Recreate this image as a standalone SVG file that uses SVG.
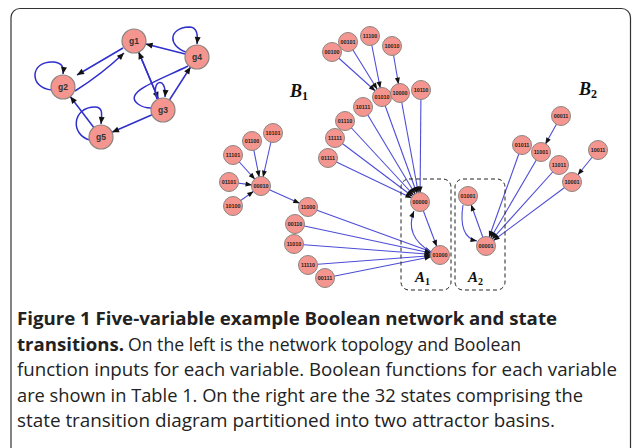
<svg xmlns="http://www.w3.org/2000/svg" width="633" height="448" viewBox="0 0 633 448">
<style>
.n circle{fill:#f4968f;stroke:#8c8480;stroke-width:1}
.n text{font-family:"Liberation Sans",Arial,sans-serif;font-weight:bold;font-size:5.4px;fill:#222;text-anchor:middle}
.g circle{fill:#f4968f;stroke:#8c8480;stroke-width:1.2}
.g text{font-family:"Liberation Sans",Arial,sans-serif;font-weight:bold;font-size:8.5px;fill:#333;text-anchor:middle}
.e{stroke:#4d4dd8;stroke-width:1.1;fill:none}
.el{stroke:#2f2fcc;stroke-width:1.5;fill:none}
.lb{font-family:"Liberation Serif","Times New Roman",serif;font-weight:bold;font-style:italic;fill:#111}
.sub{font-style:normal}
.cap{font-family:"Open Sans","Noto Sans",sans-serif;font-size:18.5px;fill:#222}
.box{fill:none;stroke:#222;stroke-width:1;stroke-dasharray:4,3}
</style>
<defs>
<marker id="ar" markerUnits="userSpaceOnUse" markerWidth="7" markerHeight="5" refX="15.5" refY="2.5" orient="auto" overflow="visible"><path d="M0,0 L6.5,2.5 L0,5 Z" fill="#111"/></marker>
<marker id="ag" markerUnits="userSpaceOnUse" markerWidth="7" markerHeight="6" refX="19" refY="3" orient="auto" overflow="visible"><path d="M0,0 L7,3 L0,6 Z" fill="#111"/></marker>
<marker id="at" markerUnits="userSpaceOnUse" markerWidth="7" markerHeight="6" refX="6.5" refY="2.5" orient="auto" overflow="visible"><path d="M0,0 L6.5,2.5 L0,5 Z" fill="#111"/></marker>
<marker id="atg" markerUnits="userSpaceOnUse" markerWidth="7" markerHeight="6" refX="7" refY="3" orient="auto" overflow="visible"><path d="M0,0 L7,3 L0,6 Z" fill="#111"/></marker>
</defs>
<rect x="11" y="8.5" width="619.5" height="470" rx="9" fill="#fff" stroke="#333" stroke-width="1.2"/>

<g id="connectors">
<!-- left network -->
<line class="el" x1="197" y1="57" x2="134" y2="41" marker-end="url(#ag)"/>
<path class="el" d="M186,52 C168,46 168,28 189,27 C197,27 198,34 197,44" marker-end="url(#atg)"/>
<path class="el" d="M123,48 L77,75" marker-end="url(#atg)"/>
<path class="el" d="M75,91 Q102,74 124,53" marker-end="url(#atg)"/>
<path class="el" d="M52,90 C28,88 30,60 54,62 C62,63 64,67 63,74" marker-end="url(#atg)"/>
<line class="el" x1="134" y1="41" x2="163" y2="110" marker-end="url(#ag)"/>
<line class="el" x1="163" y1="110" x2="134" y2="41" marker-end="url(#ag)"/>
<path class="el" d="M157,99 C150,80 167,75 165,97" marker-end="url(#atg)"/>
<path class="el" d="M188,66 C160,80 122,92 138,104 C142,107 147,108 151,108"/>
<line class="el" x1="163" y1="110" x2="197" y2="57" marker-end="url(#ag)"/>
<line class="el" x1="163" y1="110" x2="101" y2="137" marker-end="url(#ag)"/>
<line class="el" x1="101" y1="137" x2="63" y2="87" marker-end="url(#ag)"/>
<path class="el" d="M90,140 C70,135 72,107 95,107 C103,107 102,114 101,124" marker-end="url(#atg)"/>

<!-- B1 -->
<line class="e" x1="332" y1="52" x2="382" y2="97" marker-end="url(#ar)"/>
<line class="e" x1="348" y1="42" x2="382" y2="97" marker-end="url(#ar)"/>
<line class="e" x1="370" y1="36" x2="382" y2="97" marker-end="url(#ar)"/>
<line class="e" x1="392" y1="46" x2="400" y2="93" marker-end="url(#ar)"/>
<line class="e" x1="382" y1="97" x2="420" y2="202" marker-end="url(#ar)"/>
<line class="e" x1="400" y1="93" x2="420" y2="202" marker-end="url(#ar)"/>
<line class="e" x1="421" y1="90" x2="420" y2="202" marker-end="url(#ar)"/>
<line class="e" x1="363" y1="107" x2="420" y2="202" marker-end="url(#ar)"/>
<line class="e" x1="345" y1="121" x2="420" y2="202" marker-end="url(#ar)"/>
<line class="e" x1="335" y1="138" x2="420" y2="202" marker-end="url(#ar)"/>
<line class="e" x1="328" y1="158" x2="420" y2="202" marker-end="url(#ar)"/>
<line class="e" x1="273" y1="133" x2="261" y2="186" marker-end="url(#ar)"/>
<line class="e" x1="252" y1="141" x2="261" y2="186" marker-end="url(#ar)"/>
<line class="e" x1="233" y1="155" x2="261" y2="186" marker-end="url(#ar)"/>
<line class="e" x1="229" y1="182" x2="261" y2="186" marker-end="url(#ar)"/>
<line class="e" x1="233" y1="206" x2="261" y2="186" marker-end="url(#ar)"/>
<line class="e" x1="261" y1="186" x2="308" y2="207" marker-end="url(#ar)"/>
<line class="e" x1="308" y1="207" x2="440" y2="255" marker-end="url(#ar)"/>
<line class="e" x1="295" y1="224" x2="440" y2="255" marker-end="url(#ar)"/>
<line class="e" x1="294" y1="244" x2="440" y2="255" marker-end="url(#ar)"/>
<line class="e" x1="308" y1="265" x2="440" y2="255" marker-end="url(#ar)"/>
<line class="e" x1="325" y1="278" x2="440" y2="255" marker-end="url(#ar)"/>
<line class="e" x1="420" y1="202" x2="440" y2="255" marker-end="url(#ar)"/>
<path class="e" d="M431,252 Q404,236 414,211" marker-end="url(#at)"/>

<!-- B2 -->
<line class="e" x1="561" y1="116" x2="541" y2="152" marker-end="url(#ar)"/>
<line class="e" x1="598" y1="150" x2="572" y2="182" marker-end="url(#ar)"/>
<line class="e" x1="522" y1="145" x2="486" y2="246" marker-end="url(#ar)"/>
<line class="e" x1="541" y1="152" x2="486" y2="246" marker-end="url(#ar)"/>
<line class="e" x1="559" y1="165" x2="486" y2="246" marker-end="url(#ar)"/>
<line class="e" x1="572" y1="182" x2="486" y2="246" marker-end="url(#ar)"/>
<line class="e" x1="486" y1="246" x2="468" y2="196" marker-end="url(#ar)"/>
<path class="e" d="M463,205 Q458,237 477,241" marker-end="url(#at)"/>
</g>

<g id="g1" class="g"><circle cx="134" cy="41" r="12"/><text x="134" y="44">g1</text></g>
<g id="g2" class="g"><circle cx="63" cy="87" r="12"/><text x="63" y="90">g2</text></g>
<g id="g3" class="g"><circle cx="163" cy="110" r="12"/><text x="163" y="113">g3</text></g>
<g id="g4" class="g"><circle cx="197" cy="57" r="12"/><text x="197" y="60">g4</text></g>
<g id="g5" class="g"><circle cx="101" cy="137" r="12"/><text x="101" y="140">g5</text></g>

<g id="s00100" class="n"><circle cx="332" cy="52" r="9.5"/><text x="332" y="54">00100</text></g>
<g id="s00101" class="n"><circle cx="348" cy="42" r="9.5"/><text x="348" y="44">00101</text></g>
<g id="s11100" class="n"><circle cx="370" cy="36" r="9.5"/><text x="370" y="38">11100</text></g>
<g id="s10010" class="n"><circle cx="392" cy="46" r="9.5"/><text x="392" y="48">10010</text></g>
<g id="s01010" class="n"><circle cx="382" cy="97" r="9.5"/><text x="382" y="99">01010</text></g>
<g id="s10000" class="n"><circle cx="400" cy="93" r="9.5"/><text x="400" y="95">10000</text></g>
<g id="s10110" class="n"><circle cx="421" cy="90" r="9.5"/><text x="421" y="92">10110</text></g>
<g id="s10111" class="n"><circle cx="363" cy="107" r="9.5"/><text x="363" y="109">10111</text></g>
<g id="s01110" class="n"><circle cx="345" cy="121" r="9.5"/><text x="345" y="123">01110</text></g>
<g id="s11111" class="n"><circle cx="335" cy="138" r="9.5"/><text x="335" y="140">11111</text></g>
<g id="s01111" class="n"><circle cx="328" cy="158" r="9.5"/><text x="328" y="160">01111</text></g>
<g id="s00000" class="n"><circle cx="420" cy="202" r="9.5"/><text x="420" y="204">00000</text></g>
<g id="s10101" class="n"><circle cx="273" cy="133" r="9.5"/><text x="273" y="135">10101</text></g>
<g id="s01100" class="n"><circle cx="252" cy="141" r="9.5"/><text x="252" y="143">01100</text></g>
<g id="s11101" class="n"><circle cx="233" cy="155" r="9.5"/><text x="233" y="157">11101</text></g>
<g id="s01101" class="n"><circle cx="229" cy="182" r="9.5"/><text x="229" y="184">01101</text></g>
<g id="s10100" class="n"><circle cx="233" cy="206" r="9.5"/><text x="233" y="208">10100</text></g>
<g id="s00010" class="n"><circle cx="261" cy="186" r="9.5"/><text x="261" y="188">00010</text></g>
<g id="s11000" class="n"><circle cx="308" cy="207" r="9.5"/><text x="308" y="209">11000</text></g>
<g id="s00110" class="n"><circle cx="295" cy="224" r="9.5"/><text x="295" y="226">00110</text></g>
<g id="s11010" class="n"><circle cx="294" cy="244" r="9.5"/><text x="294" y="246">11010</text></g>
<g id="s11110" class="n"><circle cx="308" cy="265" r="9.5"/><text x="308" y="267">11110</text></g>
<g id="s00111" class="n"><circle cx="325" cy="278" r="9.5"/><text x="325" y="280">00111</text></g>
<g id="s01000" class="n"><circle cx="440" cy="255" r="9.5"/><text x="440" y="257">01000</text></g>
<g id="s00011" class="n"><circle cx="561" cy="116" r="9.5"/><text x="561" y="118">00011</text></g>
<g id="s01011" class="n"><circle cx="522" cy="145" r="9.5"/><text x="522" y="147">01011</text></g>
<g id="s11001" class="n"><circle cx="541" cy="152" r="9.5"/><text x="541" y="154">11001</text></g>
<g id="s11011" class="n"><circle cx="559" cy="165" r="9.5"/><text x="559" y="167">11011</text></g>
<g id="s10011" class="n"><circle cx="598" cy="150" r="9.5"/><text x="598" y="152">10011</text></g>
<g id="s10001" class="n"><circle cx="572" cy="182" r="9.5"/><text x="572" y="184">10001</text></g>
<g id="s01001" class="n"><circle cx="468" cy="196" r="9.5"/><text x="468" y="198">01001</text></g>
<g id="s00001" class="n"><circle cx="486" cy="246" r="9.5"/><text x="486" y="248">00001</text></g>

<g id="A1"><rect class="box" x="401" y="179" width="50" height="111" rx="8"/><text class="lb" x="415" y="282" font-size="15">A<tspan class="sub" font-size="10" dy="3">1</tspan></text></g>
<g id="A2"><rect class="box" x="455" y="179" width="50" height="111" rx="8"/><text class="lb" x="468" y="282" font-size="15">A<tspan class="sub" font-size="10" dy="3">2</tspan></text></g>

<text class="lb" x="290" y="97" font-size="18">B<tspan class="sub" font-size="12" dy="3">1</tspan></text>
<text class="lb" x="579" y="95" font-size="18">B<tspan class="sub" font-size="12" dy="3">2</tspan></text>

<g id="caption">
<text class="cap" x="17" y="325" font-weight="bold" textLength="540" lengthAdjust="spacingAndGlyphs">Figure 1 Five-variable example Boolean network and state</text>
<text class="cap" x="17" y="351"><tspan font-weight="bold" textLength="107" lengthAdjust="spacingAndGlyphs">transitions.</tspan><tspan x="128" textLength="393" lengthAdjust="spacingAndGlyphs">On the left is the network topology and Boolean</tspan></text>
<text class="cap" x="17" y="376" textLength="600" lengthAdjust="spacingAndGlyphs">function inputs for each variable. Boolean functions for each variable</text>
<text class="cap" x="17" y="402" textLength="566" lengthAdjust="spacingAndGlyphs">are shown in Table 1. On the right are the 32 states comprising the</text>
<text class="cap" x="17" y="427" textLength="538" lengthAdjust="spacingAndGlyphs">state transition diagram partitioned into two attractor basins.</text>
</g>
</svg>
